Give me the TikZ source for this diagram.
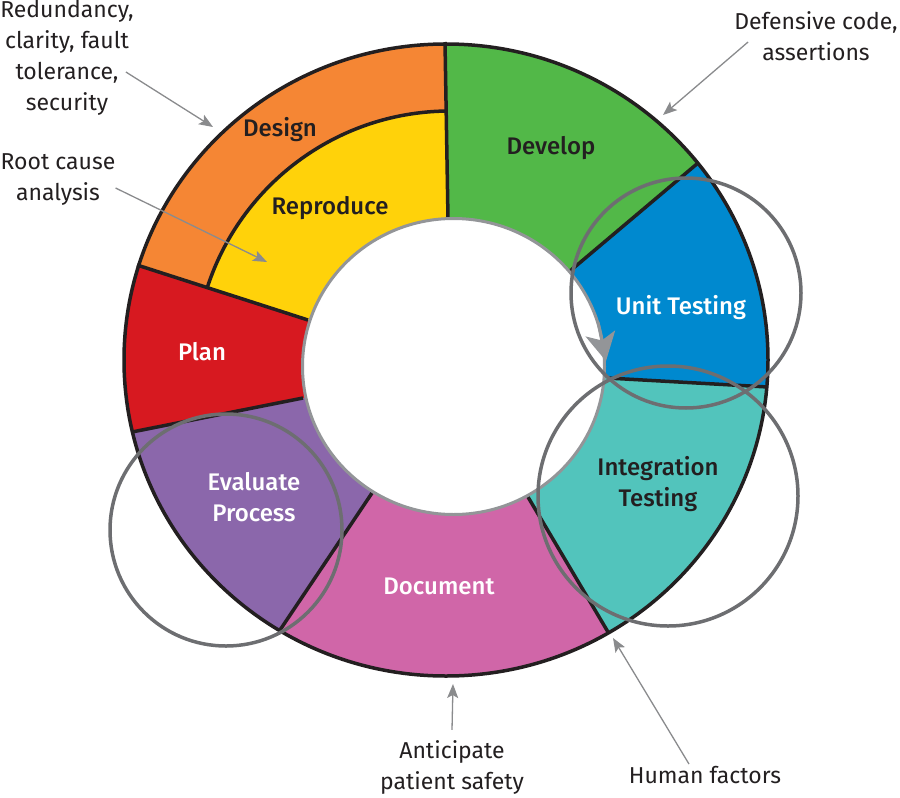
\documentclass[tikz,border=0pt]{standalone}
\usepackage{fontspec}
\setmainfont{Fira Sans}
\newfontfamily\labelfont{Fira Sans Medium}
\usetikzlibrary{arrows.meta,calc,positioning}

\definecolor{cDesign}{HTML}{F58634}
\definecolor{cRepro}{HTML}{FFD20A}
\definecolor{cDevelop}{HTML}{52B848}
\definecolor{cUnit}{HTML}{0089CF}
\definecolor{cInteg}{HTML}{52C4BC}
\definecolor{cDoc}{HTML}{D066A8}
\definecolor{cEval}{HTML}{8B67AB}
\definecolor{cPlan}{HTML}{D71920}
\definecolor{ringline}{HTML}{231F20}
\definecolor{loopgray}{HTML}{6D6E71}
\definecolor{holegray}{HTML}{939598}
\definecolor{notegray}{HTML}{8A8B8D}

\begin{document}
\begin{tikzpicture}[x=1pt, y=-1pt,
  seg/.style   = {draw=ringline, line width=3.5pt},
  loop/.style  = {draw=loopgray, line width=3.5pt},
  lab/.style   = {font=\labelfont\fontsize{24}{31}\selectfont,
                  align=center, inner sep=0pt},
  note/.style  = {font=\fontsize{23}{31}\selectfont, text=ringline,
                  align=center, inner sep=0pt},
  arr/.style   = {-{Stealth[length=14pt,width=11pt,inset=3pt]},
                  draw=notegray, line width=1.3pt},
]
\useasboundingbox (0,0) rectangle (900,798);

% segment borders: inner end, outer end
\coordinate (c)  at (450,366);
\coordinate (i1) at (448,219); \coordinate (o1) at (445,42);
\coordinate (i2) at (570,271); \coordinate (o2) at (698,163);
\coordinate (i3) at (607,378); \coordinate (o3) at (768,387);
\coordinate (i4) at (528,497); \coordinate (o4) at (608,632);
\coordinate (i5) at (372,493); \coordinate (o5) at (280,630);
\coordinate (i6) at (303,398); \coordinate (o6) at (132,432);
\coordinate (i7) at (308,320); \coordinate (o7) at (137,265);
\foreach \k in {1,...,7}
  \coordinate (e\k) at ($(i\k)!2.6!(o\k)$);

\begin{scope}
  \clip (446,360) ellipse [x radius=322pt, y radius=316pt];
  \fill[cDevelop] (i1) -- (e1) -- (e2) -- (i2) -- (c) -- cycle;
  \fill[cUnit]    (i2) -- (e2) -- (e3) -- (i3) -- (c) -- cycle;
  \fill[cInteg]   (i3) -- (e3) -- (e4) -- (i4) -- (c) -- cycle;
  \fill[cDoc]     (i4) -- (e4) -- (e5) -- (i5) -- (c) -- cycle;
  \fill[cEval]    (i5) -- (e5) -- (e6) -- (i6) -- (c) -- cycle;
  \fill[cPlan]    (i6) -- (e6) -- (e7) -- (i7) -- (c) -- cycle;
  \fill[cDesign]  (i7) -- (e7) -- (e1) -- (i1) -- (c) -- cycle;
  \begin{scope}
    \clip (i7) -- (e7) -- (e1) -- (i1) -- (c) -- cycle;
    \filldraw[fill=cRepro, seg] (c) circle [radius=255pt];
  \end{scope}
\end{scope}
\foreach \k in {1,...,7}
  \draw[seg] (i\k) -- (o\k);
\draw[seg] (446,360) ellipse [x radius=322pt, y radius=316pt];
\filldraw[fill=white, draw=holegray, line width=3pt]
  (453.5,366.5) ellipse [x radius=151pt, y radius=148pt];

% loop arrow on the hole
\coordinate (looptail) at (598,322);
\coordinate (looptip)  at (606,361);
\draw[draw=holegray, line width=3pt,
      -{Stealth[length=28pt,width=30pt,inset=7pt]}] (looptail) -- (looptip);

\draw[loop] (686,293) circle [radius=115pt];
\draw[loop] (668,496) circle [radius=130pt];
\draw[loop] (226,530) circle [radius=116pt];

\node[lab, text=ringline] (design)  at (280,130) {Design};
\node[lab, text=ringline] (repro)   at (330,208) {Reproduce};
\node[lab, text=ringline] (develop) at (551,148) {Develop};
\node[lab, text=white]    (unit)    at (681,308) {Unit Testing};
\node[lab, text=ringline] (integ)   at (658,484) {Integration\\Testing};
\node[lab, text=white]    (doc)     at (439,586) {Document};
\node[lab, text=white]    (eval)    at (254,497) {Evaluate\\Process};
\node[lab, text=white]    (plan)    at (202,352) {Plan};

\node[note] (redund)    at (67,58)  {Redundancy,\\clarity, fault\\tolerance,\\security};
\node[note] (rootcause) at (58,180) {Root cause\\analysis};
\node[note] (defensive) at (816,36) {Defensive code,\\assertions};
\node[note] (anticip)   at (452,767) {Anticipate\\patient safety};
\node[note] (human)     at (705,775) {Human factors};

\coordinate (designPt)  at (213,127);
\coordinate (reproPt)   at (267,262);
\coordinate (developPt) at (663,115);
\coordinate (docPt)     at (453,684);
\coordinate (integPt)   at (613,638);

\draw[arr] ([xshift=-8pt,yshift=-14pt]redund.east) -- (designPt);
\draw[arr] ([yshift=-8pt]rootcause.east) -- (reproPt);
\draw[arr] ([xshift=14pt,yshift=-6pt]defensive.west) -- (developPt);
\draw[arr] ([yshift=10pt]anticip.north) -- (docPt);
\draw[arr] ([xshift=-16pt,yshift=2pt]human.north) -- (integPt);
\end{tikzpicture}
\end{document}
